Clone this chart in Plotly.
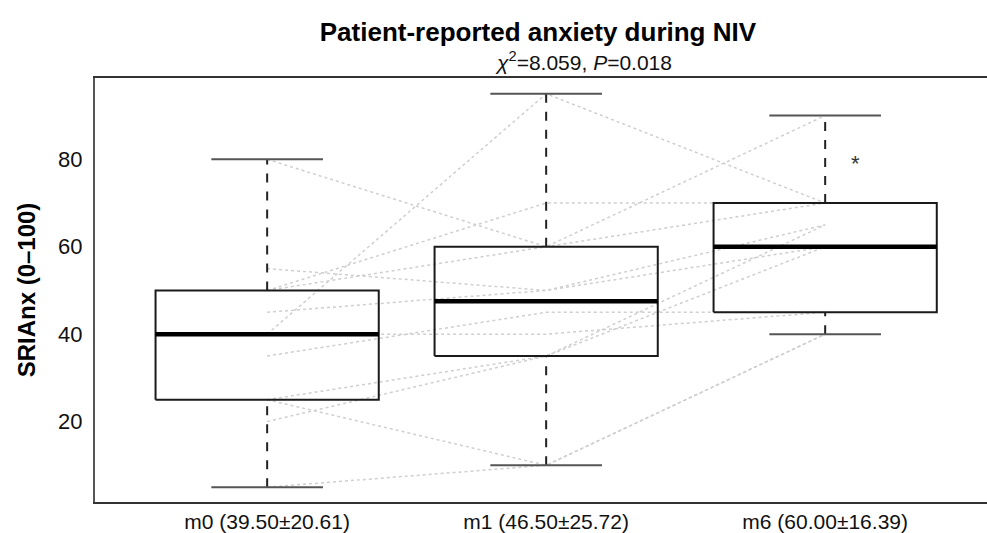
import plotly.graph_objects as go

# timepoints and their axis labels
timepoints = ['m0', 'm1', 'm6']
tick_labels = ['m0 (39.50±20.61)', 'm1 (46.50±25.72)', 'm6 (60.00±16.39)']

# box statistics
lower_whisker = [5, 10, 40]
q1 = [25, 35, 45]
median = [40, 47.5, 60]
q3 = [50, 60, 70]
upper_whisker = [80, 95, 90]

# individual patients, SRIAnx at m0, m1, m6
patients = [
    [80, 60, 90],
    [40, 95, 70],
    [55, 50, 65],
    [50, 70, 70],
    [35, 45, 45],
    [40, 40, 45],
    [25, 35, 60],
    [25, 10, 40],
    [5, 10, 40],
    [20, 35, 65],
    [45, 50, 60],
    [50, 60, 70],
]

BOX_HALF = 0.4
CAP_HALF = 0.2
pos = list(range(len(timepoints)))

fig = go.Figure()

# grey dotted patient trajectories
for p in patients:
    fig.add_trace(go.Scatter(
        x=pos, y=p, mode='lines',
        line=dict(color='#cfcfcf', width=1.5, dash='dot'),
        hoverinfo='skip', showlegend=False,
    ))

for i in pos:
    # dashed whiskers
    for a, b in ((q3[i], upper_whisker[i]), (lower_whisker[i], q1[i])):
        fig.add_trace(go.Scatter(
            x=[i, i], y=[a, b], mode='lines',
            line=dict(color='#222222', width=2, dash='dash'),
            hoverinfo='skip', showlegend=False,
        ))
    # caps
    for v in (upper_whisker[i], lower_whisker[i]):
        fig.add_trace(go.Scatter(
            x=[i - CAP_HALF, i + CAP_HALF], y=[v, v], mode='lines',
            line=dict(color='#555555', width=2),
            hoverinfo='skip', showlegend=False,
        ))
    # box outline
    fig.add_trace(go.Scatter(
        x=[i - BOX_HALF, i + BOX_HALF, i + BOX_HALF, i - BOX_HALF, i - BOX_HALF],
        y=[q1[i], q1[i], q3[i], q3[i], q1[i]],
        mode='lines', line=dict(color='#1a1a1a', width=2),
        hoverinfo='skip', showlegend=False,
    ))
    # thick median
    fig.add_trace(go.Scatter(
        x=[i - BOX_HALF, i + BOX_HALF], y=[median[i], median[i]], mode='lines',
        line=dict(color='#000000', width=4.5),
        hovertemplate=tick_labels[i] + '<br>median %{y}<extra></extra>', showlegend=False,
    ))

fig.add_annotation(x=2.107, y=79, text='*', showarrow=False, font=dict(size=22, color='#333333'))

fig.update_layout(
    width=987, height=533,
    margin=dict(l=95, r=0, t=78, b=28),
    paper_bgcolor='white', plot_bgcolor='white',
    font=dict(family='Arial, Liberation Sans, sans-serif', color='#111111'),
    title=dict(
        text='<b>Patient-reported anxiety during NIV</b>',
        x=0.545, xanchor='center', y=1 - 32 / 533, yanchor='middle',
        font=dict(size=26, color='#000000'),
    ),
    xaxis=dict(
        range=[-0.617, 2.58], tickvals=pos, ticktext=tick_labels,
        showgrid=False, zeroline=False, ticks='',
        showline=True, mirror=True, linecolor='#333333', linewidth=2,
        tickfont=dict(size=21, color='#111111'), ticklabelstandoff=0,
    ),
    yaxis=dict(
        range=[1.6, 98.6], tickvals=[20, 40, 60, 80],
        showgrid=False, zeroline=False, ticks='',
        showline=True, linecolor='#555555', linewidth=2,
        tickfont=dict(size=22, color='#111111'), ticklabelstandoff=6,
        title=dict(text='<b>SRIAnx (0–100)</b>', font=dict(size=24, color='#000000'), standoff=16),
    ),
)

fig.add_annotation(
    xref='paper', yref='paper', x=0.548, y=1.0, yanchor='middle', yshift=17, showarrow=False,
    text='<i>χ</i><sup>2</sup>=8.059, <i>P</i>=0.018',
    font=dict(size=21, color='#111111'),
)

fig.write_html(
    'out.html',
    config={'displayModeBar': False},
    post_script="document.body.style.margin='0';",
)
